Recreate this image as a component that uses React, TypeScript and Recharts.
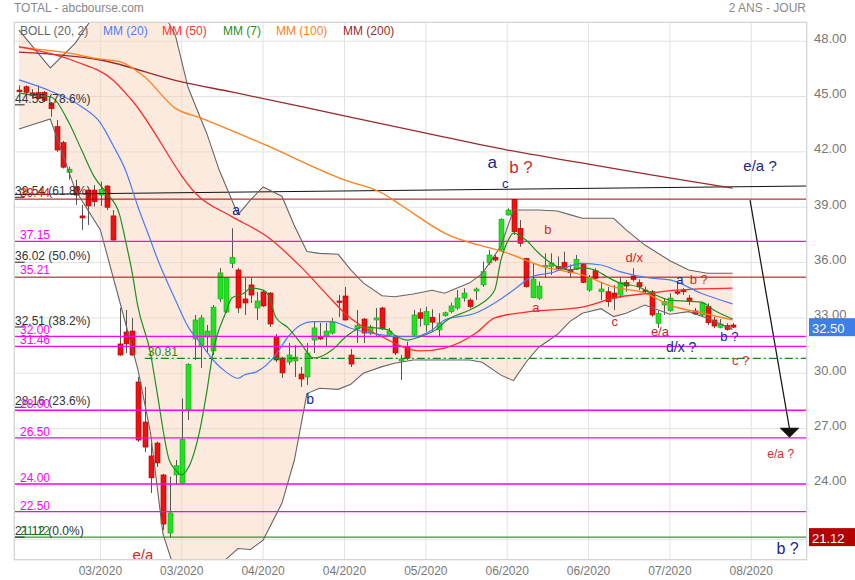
import React from "react";
import {
  ComposedChart,
  Bar,
  Line,
  Area,
  XAxis,
  YAxis,
  CartesianGrid,
  ReferenceLine,
  ReferenceDot,
} from "recharts";

// ── Data ─────────────────────────────────────────────────────────────────────

const OPEN = [
  45.35, 45.53, 45.2, 45.21, 45.23, 44.65, 43.37, 42.5, 40.89, 40.11, 38.53, 39.93, 39.93, 39.66, 40.15, 38.53,
  31.59, 32.24, 32.29, 29.53, 27.36, 25.52, 26.22, 24.49, 21.34, 24.49, 24.04, 28.01, 31.86, 31.48, 31.97, 31.21,
  34.03, 33.32, 35.96, 35.6, 34.03, 34.79, 33.54, 34.41, 34.35, 31.97, 30.83, 30.61, 30.67, 29.96, 29.8, 31.8,
  31.97, 32.02, 32.18, 33.92, 34.19, 30.99, 32.4, 32.94, 32.18, 32.89, 33.54, 32.07, 32.02, 30.67, 31.44, 32.07,
  33.28, 32.62, 33.04, 32.35, 33.12, 33.34, 33.54, 34.08, 33.97, 34.46, 34.79, 35.98, 36.29, 36.68, 38.58, 39.43,
  37.86, 36.23, 34.1, 34.07, 35.78, 35.8, 35.78, 36.02, 35.6, 35.64, 35.91, 34.51, 35.56, 34.42, 34.42, 34.35,
  34.24, 34.91, 35.27, 34.91, 34.51, 34.42, 32.71, 33.7, 33.39, 34.42, 34.51, 34.08, 33.38, 33.16, 33.61, 32.89,
  32.49, 32.58, 32.62,
];
const HIGH = [
  45.6, 45.6, 45.4, 45.6, 45.3, 44.7, 43.73, 42.6, 41.2, 40.48, 39.13, 39.95, 40.2, 40.38, 40.2, 38.85,
  33.54, 33.43, 33.0, 29.8, 29.26, 26.22, 26.3, 24.55, 24.4, 25.3, 28.64, 30.55, 33.16, 33.16, 32.62, 33.7,
  35.7, 35.2, 37.86, 35.7, 35.17, 35.17, 34.4, 34.51, 34.4, 32.13, 30.9, 31.64, 31.53, 30.34, 31.64, 32.78,
  32.73, 32.73, 33.0, 34.24, 34.68, 31.32, 33.43, 33.0, 32.62, 33.54, 33.6, 32.46, 32.07, 31.0, 31.71, 33.43,
  33.52, 33.61, 33.47, 33.25, 33.34, 33.83, 34.51, 34.61, 34.07, 34.65, 36.05, 36.68, 36.41, 38.4, 38.94, 39.45,
  38.31, 36.25, 35.96, 34.97, 36.5, 36.5, 36.32, 36.59, 35.9, 36.41, 35.96, 35.33, 35.69, 34.95, 34.68, 34.79,
  35.18, 35.06, 35.69, 35.09, 34.7, 34.51, 33.38, 34.08, 34.34, 34.89, 34.62, 34.24, 33.54, 33.88, 33.79, 33.07,
  32.94, 32.71, 32.73,
];
const LOW = [
  45.2, 45.1, 44.9, 44.8, 44.7, 43.9, 42.0, 41.1, 40.5, 39.13, 37.77, 38.04, 39.03, 39.07, 38.85, 37.2,
  30.95, 31.1, 30.95, 26.28, 25.73, 23.51, 24.92, 21.5, 21.12, 23.95, 23.95, 27.47, 30.72, 30.29, 31.1, 30.99,
  33.86, 33.27, 35.7, 33.27, 33.16, 33.81, 32.89, 33.6, 32.51, 30.61, 29.75, 30.45, 29.8, 29.26, 29.37, 31.1,
  31.8, 31.43, 32.1, 33.05, 32.85, 30.34, 31.64, 31.64, 32.07, 31.97, 32.35, 31.97, 30.99, 29.64, 30.72, 31.98,
  32.53, 32.25, 32.25, 31.98, 33.07, 33.25, 33.43, 33.88, 33.52, 33.97, 34.69, 35.87, 36.05, 36.59, 38.55, 37.5,
  36.86, 34.65, 34.07, 33.97, 35.2, 35.33, 35.6, 35.6, 35.2, 35.6, 34.88, 34.42, 35.09, 33.97, 33.61, 33.43,
  34.08, 34.42, 34.97, 34.51, 34.3, 33.07, 32.46, 33.16, 33.34, 34.24, 34.24, 33.7, 33.16, 33.07, 32.62, 32.44,
  32.44, 32.31, 32.45,
];
const CLOSE = [
  45.26, 45.23, 45.05, 44.91, 44.78, 44.34, 42.1, 41.17, 41.06, 39.66, 38.42, 39.07, 39.3, 39.97, 39.0, 37.22,
  30.99, 31.59, 30.99, 26.38, 26.0, 24.33, 25.14, 21.83, 22.43, 24.99, 26.42, 30.49, 32.89, 33.0, 32.29, 33.59,
  35.44, 35.17, 36.29, 33.54, 33.81, 34.24, 33.92, 33.65, 32.67, 30.72, 30.02, 30.99, 30.88, 29.69, 31.1, 32.46,
  31.86, 32.29, 32.78, 33.86, 32.89, 30.5, 32.6, 32.18, 32.51, 33.0, 32.4, 32.29, 31.1, 30.78, 30.81, 33.16,
  32.98, 33.34, 32.77, 32.73, 33.28, 33.65, 34.08, 34.35, 33.61, 34.57, 35.51, 36.41, 36.14, 38.35, 38.85, 37.67,
  37.05, 34.69, 35.11, 34.73, 35.85, 35.98, 35.69, 35.69, 35.45, 36.18, 34.93, 35.18, 35.15, 34.57, 33.88, 34.08,
  34.91, 34.73, 35.09, 34.69, 34.42, 33.16, 33.25, 33.88, 34.08, 34.34, 34.42, 33.88, 33.21, 33.81, 32.74, 32.56,
  32.67, 32.38, 32.5,
];

// Bollinger (20, 2): knots [bar index]
const BB_X = [
  0, 5, 9, 13, 16, 19, 21, 23, 25, 27, 30, 32, 35, 37, 39, 42, 44, 46, 48, 51, 53, 55, 58, 60, 63, 66, 68, 72,
  74, 77, 79, 81, 83, 86, 88, 90, 93, 95, 97, 100, 104, 107, 110, 114,
];
const BB_UP = [
  48.6, 46.55, 47.9, 49.9, 50.6, 50.7, 50.3, 49.6, 48.3, 45.5, 43.0, 41.0, 38.6, 39.4, 40.1, 39.6, 38.0, 36.6,
  36.5, 36.45, 35.6, 34.9, 34.2, 34.15, 34.3, 34.5, 34.34, 34.9, 35.4, 36.9, 38.85, 38.85, 38.85, 38.8, 38.6,
  38.4, 38.4, 38.4, 37.77, 36.95, 36.1, 35.6, 35.42, 35.42,
];
const BB_LO = [
  43.24, 43.78, 39.93, 37.77, 34.0, 30.2, 26.8, 21.3, 19.2, 18.6, 18.8, 19.6, 20.5, 20.45, 20.96, 22.95, 25.3,
  28.9, 29.19, 29.13, 29.4, 30.0, 30.36, 30.54, 30.72, 30.72, 30.72, 30.72, 30.6, 29.9, 29.6, 30.6, 31.4, 32.1,
  32.8, 33.25, 33.5, 33.07, 33.25, 33.7, 33.2, 33.34, 32.98, 32.38,
];

// Moving averages: [bar index, value]
const MM7: [number, number][] = [
  [0, 45.2], [2, 45.08], [5, 44.99], [8, 43.57], [10, 42.1], [12, 40.66], [14, 39.76], [16, 38.67], [17, 37.22],
  [18, 35.6], [19, 33.61], [21, 31.1], [22, 29.09], [24, 25.3], [25, 24.76], [26, 24.49], [27, 24.85], [29, 27.1],
  [30, 28.99], [31, 31.15], [33, 33.27], [34, 34.08], [36, 34.35], [37, 34.62], [39, 34.51], [40, 34.14],
  [41, 33.05], [43, 32.46], [45, 31.64], [47, 30.83], [48, 30.88], [50, 31.26], [52, 31.91], [53, 32.18],
  [55, 32.51], [57, 32.46], [59, 32.35], [60, 32.07], [62, 31.8], [64, 31.97], [67, 32.46], [68, 32.78],
  [72, 33.43], [74, 33.81], [76, 34.51], [77, 36.14], [78, 37.1], [79, 37.6], [81, 37.22], [83, 36.52],
  [85, 35.98], [88, 35.6], [90, 35.71], [92, 35.6], [94, 35.22], [96, 34.89], [99, 34.68], [101, 34.35],
  [104, 33.97], [109, 33.86], [111, 33.43], [114, 32.94],
];
const MM20: [number, number][] = [
  [0, 45.9], [5, 45.3], [10, 44.45], [13, 43.57], [15, 42.37], [17, 41.02], [19, 39.03], [21, 37.22], [22, 36.3],
  [25, 33.97], [27, 32.53], [29, 31.63], [31, 30.72], [33, 30.09], [35, 29.73], [36, 29.91], [38, 30.09],
  [41, 30.99], [43, 31.98], [45, 32.62], [47, 32.8], [50, 32.8], [53, 32.44], [55, 32.25], [58, 32.08],
  [60, 31.98], [63, 31.98], [66, 32.35], [68, 32.89], [73, 33.27], [76, 33.81], [79, 34.51], [82, 35.24],
  [85, 35.44], [90, 35.96], [93, 35.87], [96, 35.51], [101, 35.15], [104, 35.06], [109, 34.34], [114, 33.76],
];
const MM50: [number, number][] = [
  [0, 47.7], [9, 46.9], [15, 45.9], [18, 44.81], [29, 39.5], [34, 38.49], [40, 37.32], [45, 35.78], [50, 33.97],
  [52, 33.27], [55, 32.51], [58, 31.98], [61, 31.47], [64, 31.21], [68, 31.37], [73, 32.18], [76, 33.0],
  [81, 33.32], [90, 33.59], [95, 34.08], [101, 34.35], [105, 34.51], [114, 34.62],
];
const MM100: [number, number][] = [
  [0, 47.66], [8, 47.35], [13, 47.03], [16, 46.9], [20, 46.08], [25, 44.36], [29, 43.84], [39, 42.43],
  [52, 40.48], [58, 39.77], [61, 39.12], [68, 37.6], [78, 36.52], [84, 35.76], [90, 35.33], [95, 34.68],
  [100, 34.35], [104, 33.7], [109, 33.27], [114, 32.89],
];
const MM200: [number, number][] = [
  [0, 47.41], [13, 46.98], [26, 45.79], [34, 45.25], [52, 43.95], [65, 43.02], [78, 42.1], [91, 41.34],
  [101, 40.75], [114, 40.04],
];

const X_TICKS = [13, 26, 39, 52, 65, 78, 91, 104, 117];
const X_LABELS = ["03/2020", "03/2020", "04/2020", "04/2020", "05/2020", "06/2020", "06/2020", "07/2020", "08/2020"];
const Y_TICKS = [21, 24, 27, 30, 33, 36, 39, 42, 45, 48];

const MAGENTA_LEVELS = [37.15, 32.0, 31.46, 28.0, 26.5, 24.0, 22.5];
const DARKRED_LEVELS = [39.44, 35.21];
const FIB_LEVELS = [44.55, 39.54, 36.02, 32.51, 28.16, 21.12];
const FIB_PCT = ["78.6%", "61.8%", "50.0%", "38.2%", "23.6%", "0.0%"];
const SUPPORT = 30.81;
const LOW_LEVEL = 21.12;
const LAST = 32.5;
const TREND = [39.69, 40.15];
const PROJ_FROM: [number, number] = [116.8, 39.39];
const PROJ_TO: [number, number] = [123.1, 26.5];

// [text, bar index, price, tone, size]
const WAVES: [string, number, number, "b" | "r", number][] = [
  ["e/a", 19.8, 20.2, "r", 15],
  ["a", 34.7, 38.85, "b", 14],
  ["b", 46.5, 28.6, "b", 14],
  ["a", 75.6, 41.4, "b", 17],
  ["b ?", 80.2, 41.13, "r", 17],
  ["c", 77.7, 40.3, "b", 13],
  ["b", 84.5, 37.77, "r", 13],
  ["a", 82.6, 33.54, "r", 13],
  ["d/x", 98.3, 36.3, "r", 13],
  ["c", 95.2, 32.83, "r", 13],
  ["a", 105.6, 35.11, "b", 13],
  ["b ?", 108.6, 35.11, "r", 13],
  ["e/a", 102.4, 32.24, "r", 13],
  ["d/x ?", 105.8, 31.43, "b", 14],
  ["b ?", 113.5, 31.97, "b", 13],
  ["c ?", 115.3, 30.67, "r", 13],
  ["e/a ?", 118.4, 41.24, "b", 15],
  ["e/a ?", 121.7, 25.63, "r", 12],
  ["b ?", 122.8, 20.48, "b", 16],
];

// ── Layout ───────────────────────────────────────────────────────────────────

const W = 855;
const H = 580;
const X_MIN = -0.8;
const X_MAX = 125.9;
const Y_MIN = 19.88;
const Y_MAX = 49.04;
const FONT = "'Liberation Sans', Arial, sans-serif";
const TONE = { b: "#23238f", r: "#cc2a2a" };

const candles = OPEN.map((o, i) => ({
  x: i,
  o,
  h: HIGH[i],
  l: LOW[i],
  c: CLOSE[i],
  range: [LOW[i], HIGH[i]],
}));
const band = BB_X.map((x, i) => ({ x, up: BB_UP[i], lo: BB_LO[i], band: [BB_LO[i], BB_UP[i]] }));
const rows = (pts: [number, number][], key: string) => pts.map(([x, v]) => ({ x, [key]: v }));

// ── Pieces ───────────────────────────────────────────────────────────────────

function Candle(props: any) {
  const { x, y, width, height, payload } = props;
  if (!payload || payload.o == null) return null;
  const { o, h, l, c } = payload;
  const top = Math.min(y, y + height);
  const span = Math.abs(height);
  const k = h > l ? span / (h - l) : 0;
  const cx = Math.round(x + width / 2) + 0.5;
  const at = (v: number) => top + (h - v) * k;
  const up = c >= o;
  const bt = at(Math.max(o, c));
  const bb = at(Math.min(o, c));
  return (
    <g>
      <line x1={cx} x2={cx} y1={top} y2={top + span} stroke="#555" strokeWidth={1} />
      <rect
        x={cx - 2.5}
        y={bt}
        width={5}
        height={Math.max(1.5, bb - bt)}
        fill={up ? "#22e022" : "#f01010"}
        stroke={up ? "#17a817" : "#b00000"}
        strokeWidth={0.6}
      />
    </g>
  );
}

const label = (text: string, color: string, size: number, dx = 0, dy = 0, anchor = "start") =>
  (p: any) => (
    <text
      x={p.cx + dx}
      y={p.cy + dy}
      fill={color}
      fontSize={size}
      fontFamily={FONT}
      textAnchor={anchor}
      dominantBaseline="central"
    >
      {text}
    </text>
  );

const badge = (text: string, color: string) => (p: any) => (
  <g>
    <rect x={p.cx + 2} y={p.cy - 9} width={46} height={18} fill={color} />
    <text x={p.cx + 5} y={p.cy + 1} fill="#fff" fontSize={13} fontFamily={FONT} dominantBaseline="central">
      {text}
    </text>
  </g>
);

const arrowHead = (p: any) => (
  <polygon points={`${p.cx - 10},${p.cy - 10} ${p.cx + 10},${p.cy - 10} ${p.cx},${p.cy}`} fill="#111" />
);

const LEGEND: [string, string, number][] = [
  ["BOLL (20, 2)", "#666", 20],
  ["MM (20)", "#4a7cf6", 103],
  ["MM (50)", "#ff3030", 162],
  ["MM (7)", "#1f8f1f", 223],
  ["MM (100)", "#ff7f1a", 276],
  ["MM (200)", "#9a2a2a", 343],
];

export default function App() {
  return (
    <div style={{ position: "absolute", left: 0, top: 0, width: W, height: H, background: "#fff", fontFamily: FONT }}>
      <div style={{ position: "absolute", left: 14, top: 1, fontSize: 12, color: "#888" }}>TOTAL - abcbourse.com</div>
      <div style={{ position: "absolute", right: 49, top: 1, fontSize: 12, color: "#888" }}>2 ANS - JOUR</div>

      <ComposedChart width={W} height={H} data={candles} margin={{ top: 22, right: 0, bottom: 0, left: 14 }}>
        <CartesianGrid stroke="#e2e2e2" />
        <XAxis
          dataKey="x"
          type="number"
          domain={[X_MIN, X_MAX]}
          ticks={X_TICKS}
          allowDataOverflow
          height={20}
          axisLine={false}
          tickLine={false}
          tickSize={0}
          tick={(p: any) => (
            <text x={p.x} y={p.y + 9} fill="#777" fontSize={12} fontFamily={FONT} textAnchor="middle" dominantBaseline="central">
              {X_LABELS[X_TICKS.indexOf(p.payload.value)]}
            </text>
          )}
        />
        <YAxis
          orientation="right"
          type="number"
          domain={[Y_MIN, Y_MAX]}
          ticks={Y_TICKS}
          allowDataOverflow
          width={48}
          axisLine={false}
          tickLine={false}
          tickSize={0}
          tick={(p: any) =>
            p.payload.value === 21 ? (
              <g />
            ) : (
              <text x={p.x + 5} y={p.y - 3} fill="#777" fontSize={13} fontFamily={FONT} textAnchor="start" dominantBaseline="central">
                {p.payload.value.toFixed(2)}
              </text>
            )
          }
        />

        <Area data={band} dataKey="band" type="linear" stroke="none" fill="#fbd0b8" fillOpacity={0.45} isAnimationActive={false} />

        {MAGENTA_LEVELS.map((v) => (
          <ReferenceLine key={"m" + v} y={v} stroke="#ff00ff" strokeWidth={1.4} />
        ))}
        {DARKRED_LEVELS.map((v) => (
          <ReferenceLine key={"d" + v} y={v} stroke="#aa0000" strokeWidth={1} />
        ))}
        <ReferenceLine y={LOW_LEVEL} stroke="#0a7a0a" strokeWidth={1} />
        <ReferenceLine
          segment={[{ x: 20.1, y: SUPPORT }, { x: X_MAX, y: SUPPORT }]}
          stroke="#138a13"
          strokeWidth={1.2}
          strokeDasharray="8 3 2 3"
        />
        <ReferenceLine segment={[{ x: X_MIN, y: TREND[0] }, { x: X_MAX, y: TREND[1] }]} stroke="#111" strokeWidth={1} />
        {FIB_LEVELS.map((v) => (
          <ReferenceLine key={"f" + v} segment={[{ x: X_MIN, y: v }, { x: 0.9, y: v }]} stroke="#222" strokeWidth={1} />
        ))}

        <Line data={band} dataKey="up" type="linear" stroke="#666" strokeWidth={1.1} dot={false} isAnimationActive={false} />
        <Line data={band} dataKey="lo" type="linear" stroke="#666" strokeWidth={1.1} dot={false} isAnimationActive={false} />

        <Line data={rows(MM200, "mm200")} dataKey="mm200" type="monotone" stroke="#9a2a2a" strokeWidth={1.3} dot={false} isAnimationActive={false} />
        <Line data={rows(MM100, "mm100")} dataKey="mm100" type="monotone" stroke="#ff7f1a" strokeWidth={1.3} dot={false} isAnimationActive={false} />
        <Line data={rows(MM50, "mm50")} dataKey="mm50" type="monotone" stroke="#ff2b2b" strokeWidth={1.3} dot={false} isAnimationActive={false} />
        <Line data={rows(MM20, "mm20")} dataKey="mm20" type="monotone" stroke="#4a7cf6" strokeWidth={1.2} dot={false} isAnimationActive={false} />

        <Bar dataKey="range" barSize={5} shape={(p: any) => <Candle {...p} />} isAnimationActive={false} />

        <Line data={rows(MM7, "mm7")} dataKey="mm7" type="monotone" stroke="#1f8f1f" strokeWidth={1.2} dot={false} isAnimationActive={false} />

        <ReferenceLine
          segment={[{ x: PROJ_FROM[0], y: PROJ_FROM[1] }, { x: PROJ_TO[0], y: PROJ_TO[1] + 0.5 }]}
          stroke="#111"
          strokeWidth={1.2}
        />
        <ReferenceDot x={PROJ_TO[0]} y={PROJ_TO[1]} r={0} ifOverflow="visible" shape={arrowHead} />

        {FIB_LEVELS.map((v, i) => (
          <ReferenceDot key={"ft" + v} x={X_MIN} y={v} r={0} ifOverflow="visible" shape={label(`${v.toFixed(2)} (${FIB_PCT[i]})`, "#333", 12, 1, -6)} />
        ))}
        {MAGENTA_LEVELS.map((v) => (
          <ReferenceDot key={"mt" + v} x={X_MIN} y={v} r={0} ifOverflow="visible" shape={label(v.toFixed(2), "#ff00ff", 12, 6, -6)} />
        ))}
        <ReferenceDot x={X_MIN} y={DARKRED_LEVELS[0]} r={0} ifOverflow="visible" shape={label(DARKRED_LEVELS[0].toFixed(2), "#dd1111", 12, 6, -6)} />
        <ReferenceDot x={X_MIN} y={DARKRED_LEVELS[1]} r={0} ifOverflow="visible" shape={label(DARKRED_LEVELS[1].toFixed(2), "#ff00ff", 12, 6, -7)} />
        <ReferenceDot x={X_MIN} y={LOW_LEVEL} r={0} ifOverflow="visible" shape={label(LOW_LEVEL.toFixed(2), "#1a8a1a", 12, 6, -6)} />
        <ReferenceDot x={20.1} y={SUPPORT} r={0} ifOverflow="visible" shape={label(SUPPORT.toFixed(2), "#1a8a1a", 12, 3, -6)} />

        {WAVES.map(([t, x, y, tone, size], i) => (
          <ReferenceDot key={"w" + i} x={x} y={y} r={0} ifOverflow="visible" shape={label(t, TONE[tone], size, 0, 0, "middle")} />
        ))}

        <ReferenceDot x={X_MAX} y={LAST} r={0} ifOverflow="visible" shape={badge(LAST.toFixed(2), "#3d7fe6")} />
        <ReferenceDot x={X_MAX} y={LOW_LEVEL} r={0} ifOverflow="visible" shape={badge(LOW_LEVEL.toFixed(2), "#b30000")} />
      </ComposedChart>

      <div
        style={{
          position: "absolute",
          left: 14,
          top: 22,
          width: 793,
          height: 538,
          border: "1px solid #d4d4d4",
          boxSizing: "border-box",
          pointerEvents: "none",
        }}
      />
      {LEGEND.map(([t, color, left]) => (
        <div key={t} style={{ position: "absolute", left, top: 23, fontSize: 12, color, lineHeight: "16px" }}>
          {t}
        </div>
      ))}
    </div>
  );
}
